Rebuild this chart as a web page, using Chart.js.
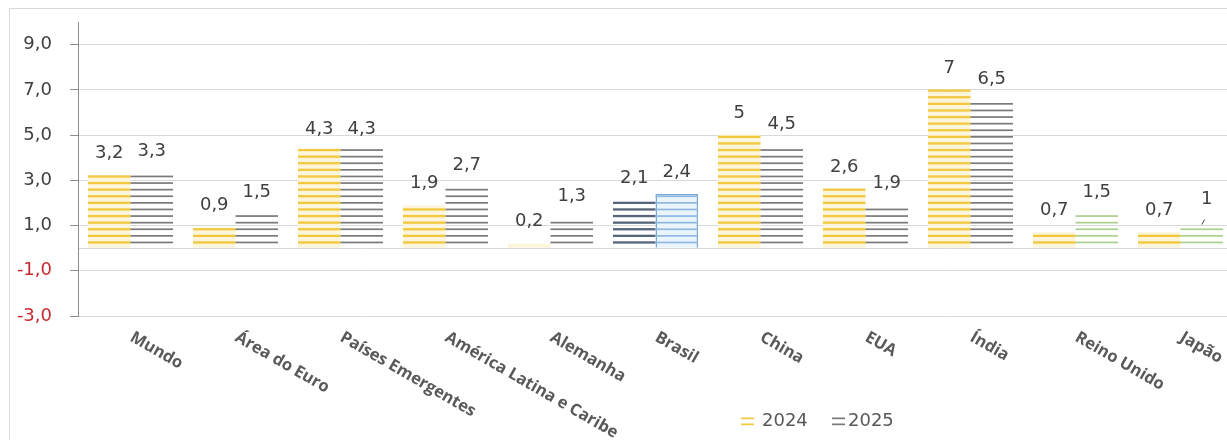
<!DOCTYPE html>
<html>
<head>
<meta charset="utf-8">
<script src="https://cdn.jsdelivr.net/npm/chart.js@4.4.1/dist/chart.umd.min.js"></script>
<style>
  html, body { margin: 0; padding: 0; background: #ffffff; overflow: hidden; }
  #wrap { position: absolute; left: 0; top: 0; width: 1240px; height: 440px; }
  #frame { position: absolute; left: 9px; top: 8px; width: 1300px; height: 500px; border: 1px solid #d9d9d9; pointer-events: none; }
</style>
</head>
<body>
<div id="wrap"><canvas id="c"></canvas></div>
<div id="frame"></div>
<script>
const categories = ['Mundo', 'Área do Euro', 'Países Emergentes', 'América Latina e Caribe', 'Alemanha', 'Brasil', 'China', 'EUA', 'Índia', 'Reino Unido', 'Japão'];
const values2024 = [3.2, 0.9, 4.3, 1.9, 0.2, 2.1, 5, 2.6, 7, 0.7, 0.7];
const values2025 = [3.3, 1.5, 4.3, 2.7, 1.3, 2.4, 4.5, 1.9, 6.5, 1.5, 1];
const seriesLabels = ['2024', '2025'];
const yTicks = [-3, -1, 0, 1, 3, 5, 7, 9];

function fmt(v) { return String(v).replace('.', ','); }

// style helpers (by category name)
function stripeColor(ds, i) {
  const c = categories[i];
  if (ds === 0) return c === 'Brasil' ? '#56657c' : '#f1c83e';
  if (c === 'Brasil') return '#8fb8e0';
  if (c === 'Reino Unido' || c === 'Japão') return '#abcf8f';
  return '#7a7a7a';
}
function fillColor(ds, i) {
  const c = categories[i];
  if (ds === 0) return c === 'Brasil' ? 'rgba(0,0,0,0)' : '#fdf6dc';
  if (c === 'Brasil') return '#eaf4fc';
  return 'rgba(0,0,0,0)';
}

const stripePlugin = {
  id: 'stripes',
  afterDatasetsDraw(chart) {
    const ctx = chart.ctx;
    ctx.save();
    chart.data.datasets.forEach((d, ds) => {
      const meta = chart.getDatasetMeta(ds);
      meta.data.forEach((el, i) => {
        const p = el.getProps(['x', 'y', 'base', 'width'], true);
        const left = p.x - p.width / 2;
        ctx.fillStyle = stripeColor(ds, i);
        const th = ds === 0 ? 2.3 : 1.7;
        for (let yy = p.base - 5.2; yy >= p.y - 1; yy -= 6.6) {
          ctx.fillRect(left, yy - th / 2, p.width, th);
        }
      });
    });
    ctx.restore();
  }
};

const labelPlugin = {
  id: 'labels',
  afterDraw(chart) {
    const ctx = chart.ctx;
    ctx.save();
    // data labels
    ctx.font = '18px "DejaVu Sans"';
    ctx.fillStyle = '#404040';
    ctx.textAlign = 'center';
    ctx.textBaseline = 'middle';
    chart.data.datasets.forEach((d, ds) => {
      const meta = chart.getDatasetMeta(ds);
      meta.data.forEach((el, i) => {
        const p = el.getProps(['x', 'y'], true);
        let lx = p.x, ly = p.y - 22;
        if (ds === 1 && categories[i] === 'Japão') {
          lx = p.x + 5; ly = p.y - 26;
          ctx.strokeStyle = '#404040';
          ctx.lineWidth = 1;
          ctx.beginPath();
          ctx.moveTo(p.x, p.y - 1);
          ctx.lineTo(p.x + 3, p.y - 6);
          ctx.stroke();
        }
        ctx.fillText(fmt(d.data[i]), lx, ly);
      });
    });
    // rotated category labels
    const xs = chart.scales.x;
    ctx.font = 'bold 16.5px "Open Sans"';
    ctx.fillStyle = '#595959';
    ctx.textAlign = 'left';
    ctx.textBaseline = 'top';
    categories.forEach((c, i) => {
      const x = xs.getPixelForValue(i);
      ctx.save();
      ctx.translate(x + 5, 329);
      ctx.rotate(30 * Math.PI / 180);
      ctx.fillText(c, 0, 0);
      ctx.restore();
    });
    // legend
    ctx.font = '18px "DejaVu Sans"';
    ctx.textBaseline = 'middle';
    const legendItems = [
      { x: 741, tx: 762, color: '#f1c83e', text: seriesLabels[0] },
      { x: 832, tx: 848, color: '#7a7a7a', text: seriesLabels[1] }
    ];
    legendItems.forEach(it => {
      ctx.fillStyle = it.color;
      ctx.fillRect(it.x, 417.5, 13, 1.7);
      ctx.fillRect(it.x, 423.5, 13, 1.7);
      ctx.fillStyle = '#595959';
      ctx.fillText(it.text, it.tx, 421);
    });
    ctx.restore();
  }
};

new Chart(document.getElementById('c'), {
  type: 'bar',
  data: {
    labels: categories,
    datasets: [
      {
        label: seriesLabels[0],
        data: values2024,
        backgroundColor: (c) => fillColor(0, c.dataIndex),
        borderWidth: 0
      },
      {
        label: seriesLabels[1],
        data: values2025,
        backgroundColor: (c) => fillColor(1, c.dataIndex),
        borderColor: (c) => categories[c.dataIndex] === 'Brasil' ? '#7aa8d6' : 'rgba(0,0,0,0)',
        borderWidth: (c) => categories[c.dataIndex] === 'Brasil' ? 1.5 : 0
      }
    ]
  },
  options: {
    responsive: true,
    maintainAspectRatio: false,
    animation: false,
    layout: { padding: { left: 0, right: 7, top: 22, bottom: 0 } },
    datasets: { bar: { barPercentage: 1, categoryPercentage: 0.81 } },
    plugins: { legend: { display: false }, tooltip: { enabled: false } },
    scales: {
      x: {
        grid: { display: false },
        border: { display: false },
        ticks: { display: false },
        afterFit(s) { s.height = 124; s.paddingLeft = 0; s.paddingRight = 0; }
      },
      y: {
        min: -3,
        max: 10,
        afterBuildTicks(s) { s.ticks = yTicks.map(v => ({ value: v })); },
        afterFit(s) { s.width = 78; s.paddingTop = 0; s.paddingBottom = 0; },
        border: { display: true, color: '#8c8c8c', width: 1 },
        grid: {
          color: '#d9d9d9',
          lineWidth: 1,
          tickLength: 8,
          tickColor: (c) => (c.tick && c.tick.value === 0) ? 'rgba(0,0,0,0)' : '#8c8c8c'
        },
        ticks: {
          padding: 18,
          font: { family: 'DejaVu Sans', size: 18 },
          color: (c) => (c.tick && c.tick.value < 0) ? '#c8282d' : '#404040',
          callback: (v) => v === 0 ? '' : v.toFixed(1).replace('.', ',')
        }
      }
    }
  },
  plugins: [stripePlugin, labelPlugin]
});
</script>
</body>
</html>
